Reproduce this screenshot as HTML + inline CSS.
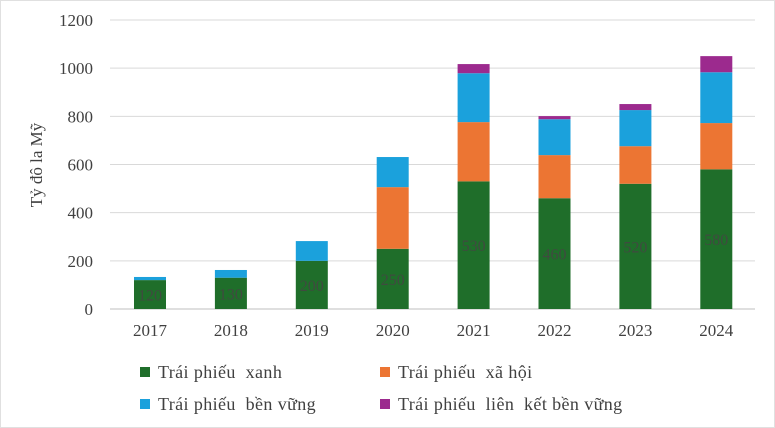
<!DOCTYPE html>
<html><head><meta charset="utf-8"><style>
body{margin:0;background:#fff;}
svg{display:block;font-family:"Liberation Serif",serif;}
</style></head><body>
<svg width="775" height="428">
<rect x="0.5" y="0.5" width="774" height="427" fill="#fff" stroke="#e0e0e0"/>
<g id="grid"></g>
<g id="bars"></g>
<g id="axes"></g>
<text transform="translate(42,165) rotate(-90)" text-anchor="middle" font-size="17" fill="#404040">Tỷ đô la Mỹ</text>
<g id="legend" font-size="18" fill="#404040" letter-spacing="0.4"></g>
</svg>
<script>
const categories=["2017","2018","2019","2020","2021","2022","2023","2024"];
const green=[120,130,200,250,530,460,520,580];
const orange=[0,0,0,256,246,179,156,192];
const blue=[13,32,82,125,203,149,150,211];
const purple=[0,0,0,0,38,13,25,67];
const yTicks=[0,200,400,600,800,1000,1200];
const seriesNames=["Trái phiếu  xanh","Trái phiếu  xã hội","Trái phiếu  bền vững","Trái phiếu  liên  kết bền vững"];
const colors=["#1f6e2a","#ec7533","#1ba1dc","#9c2a8e"];
const NS="http://www.w3.org/2000/svg";
const y0=309,yTop=20,x0=110,step=80.9,bw=32;
const ys=v=>y0-(v/1200)*(y0-yTop);
const xs=i=>150+i*step;
function el(t,a,p){const e=document.createElementNS(NS,t);for(const k in a)e.setAttribute(k,a[k]);document.getElementById(p).appendChild(e);return e;}
yTicks.forEach(t=>{
 const l=el("line",{x1:x0,x2:755,y1:ys(t),y2:ys(t),stroke:t===0?"#bfbfbf":"#d9d9d9"},"grid");
 
 
 const tx=el("text",{x:93,y:ys(t)+6,"text-anchor":"end","font-size":"17",fill:"#404040"},"axes");
 tx.textContent=t;
 
 
});
const series=[green,orange,blue,purple];
categories.forEach((c,i)=>{
 let base=0;
 series.forEach((s,k)=>{
  if(s[i]>0){
   const r=el("rect",{x:xs(i)-bw/2,y:ys(base+s[i]),width:bw,height:ys(base)-ys(base+s[i]),fill:colors[k]},"bars");
   
   
  }
  base+=s[i];
 });
 const lb=el("text",{x:xs(i),y:ys(green[i]/2)+6,"text-anchor":"middle","font-size":"16",fill:"#404a40"},"bars");
 lb.textContent=green[i];
 
 
 const tx=el("text",{x:xs(i),y:336,"text-anchor":"middle","font-size":"17",fill:"#404040"},"axes");
 tx.textContent=c;
 
 
});
const lpos=[[140,373],[380,373],[140,405],[380,405]];
seriesNames.forEach((n,k)=>{
 const r=el("rect",{x:lpos[k][0],y:lpos[k][1]-6,width:10,height:10,fill:colors[k]},"legend");
 
 
 const t=el("text",{x:lpos[k][0]+18,y:lpos[k][1]+5},"legend");
 t.setAttribute('style','white-space:pre');
 t.textContent=n;
 
 
});
</script>
</body></html>
